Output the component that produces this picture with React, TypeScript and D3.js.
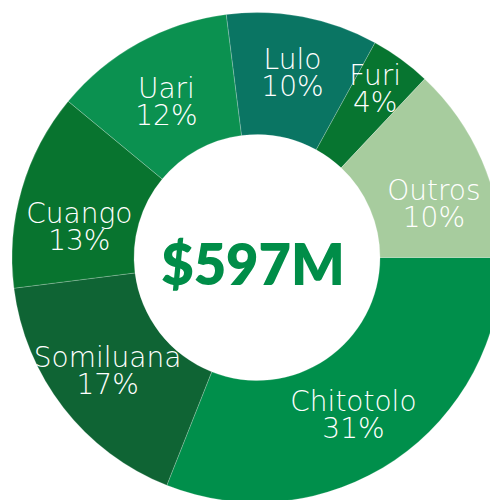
import React, { useEffect, useRef } from 'react';
import * as d3 from 'd3';

const mines = ['Chitotolo', 'Somiluana', 'Cuango', 'Uari', 'Lulo', 'Furi', 'Outros'];
const shares = [31, 17, 13, 12, 10, 4, 13];
const shareLabels = ['31%', '17%', '13%', '12%', '10%', '4%', '10%'];
const colors = ['#008f4b', '#0f6434', '#08742f', '#0b9150', '#0a7563', '#077530', '#a7cc9e'];
const totalLabel = '$597M';

// small per-label offsets from the arc centroid, to sit like the original
const labelNudge: [number, number][] = [
  [-7, 5],
  [-4, 0],
  [-1, 20],
  [-2, 5],
  [1, -4],
  [10, -20],
  [8, 19],
];

interface Slice {
  name: string;
  value: number;
  label: string;
  color: string;
}

const App: React.FC = () => {
  const ref = useRef<SVGSVGElement>(null);

  useEffect(() => {
    const width = 490;
    const height = 500;
    const cx = 257;
    const cy = 257.5;
    const outer = 245;
    const inner = 123;

    const data: Slice[] = mines.map((name, i) => ({
      name,
      value: shares[i],
      label: shareLabels[i],
      color: colors[i],
    }));

    const svg = d3.select(ref.current!);
    svg.selectAll('*').remove();
    svg.attr('width', width).attr('height', height);

    const g = svg.append('g').attr('transform', `translate(${cx}, ${cy})`);

    const pie = d3
      .pie<Slice>()
      .sort(null)
      .value((d) => d.value)
      .startAngle(Math.PI / 2)
      .endAngle(Math.PI / 2 + 2 * Math.PI);

    const arc = d3.arc<d3.PieArcDatum<Slice>>().innerRadius(inner).outerRadius(outer);
    const labelArc = d3.arc<d3.PieArcDatum<Slice>>().innerRadius(184).outerRadius(184);

    const arcs = pie(data);

    g.selectAll('path')
      .data(arcs)
      .enter()
      .append('path')
      .attr('d', arc)
      .attr('fill', (d) => d.data.color)
      .attr('stroke', '#ffffff')
      .attr('stroke-opacity', 0.35)
      .attr('stroke-width', 0.6);

    const lineGap = 27;
    const labels = g
      .selectAll('text.lbl')
      .data(arcs)
      .enter()
      .append('text')
      .attr('class', 'lbl')
      .attr('text-anchor', 'middle')
      .attr('fill', '#ffffff')
      .style('font-family', '"DejaVu Sans", sans-serif')
      .style('font-weight', 300)
      .style('font-size', '28px')
      .attr('transform', (d, i) => {
        const [x, y] = labelArc.centroid(d);
        return `translate(${x + labelNudge[i][0]}, ${y + labelNudge[i][1]})`;
      });

    labels.append('tspan').attr('x', 0).attr('y', -3.5).text((d) => d.data.name);
    labels
      .append('tspan')
      .attr('x', 0)
      .attr('y', -3.5 + lineGap)
      .text((d) => d.data.label);

    g.append('text')
      .attr('text-anchor', 'middle')
      .attr('x', -4)
      .attr('y', 27)
      .attr('fill', '#008d48')
      .style('font-family', 'Lato, sans-serif')
      .style('font-weight', 800)
      .style('font-size', '56px')
      .text(totalLabel);
  }, []);

  return (
    <svg
      ref={ref}
      style={{ position: 'absolute', left: 0, top: 0, display: 'block', overflow: 'hidden' }}
    />
  );
};

export default App;
